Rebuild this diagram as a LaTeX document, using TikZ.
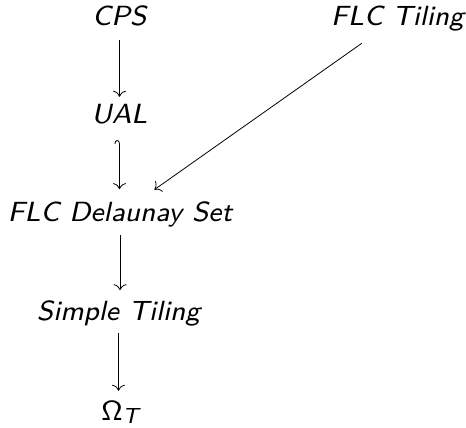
\documentclass[tikz,border=0pt]{standalone}
\usetikzlibrary{arrows.meta}
\begin{document}
\begin{tikzpicture}[x=1bp,y=-1bp,
  lbl/.style={anchor=base,inner sep=0pt,outer sep=0pt,scale=3.48,font=\fontsize{8}{9.6}\selectfont\sffamily\slshape},
  arr/.style={-{To[length=6bp,width=13bp]},line width=0.8bp},
  harr/.style={{Hooks[left,length=4bp,width=10bp]}-{To[length=6bp,width=13bp]},line width=0.8bp}]
\useasboundingbox (0,0) rectangle (466,427);
\node[lbl] (cps) at (119.5,25) {CPS};
\node[lbl] (flct) at (397.5,25) {FLC Tiling};
\node[lbl] (ual) at (119.5,123) {UAL};
\node[lbl] (flcd) at (120,221) {FLC Delaunay Set};
\node[lbl] (simple) at (118.5,320) {Simple Tiling};
\node[lbl] (omega) at (120,420) {{\usefont{OT1}{cmss}{m}{n}\char"0A}\raisebox{-0.9pt}{\fontsize{6.3}{7}\selectfont T}};
\draw[arr,shorten <=15bp,shorten >=7bp] (cps.base) -- (cps.base |- ual.north);
\draw[harr,shorten <=17bp,shorten >=12bp] (ual.base) -- (ual.base |- flcd.north);
\draw[arr,shorten <=14bp,shorten >=10bp] (flcd.base) -- (flcd.base |- simple.north);
\draw[arr,shorten <=13bp,shorten >=10bp] (simple.base) -- (simple.base |- omega.north);
\draw[arr,shorten <=22bp,shorten >=20bp] (flct) -- (flcd);
\end{tikzpicture}
\end{document}
